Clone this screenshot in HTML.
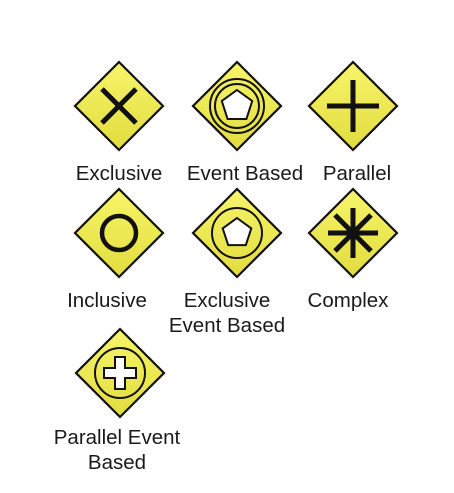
<!DOCTYPE html>
<html><head><meta charset="utf-8"><style>
body{margin:0;background:#fff;width:454px;height:488px;overflow:hidden}
svg text{font-family:"Liberation Sans",sans-serif;font-size:20.5px;fill:#1a1a1a;text-anchor:middle}
</style></head><body>
<svg width="454" height="488">
<defs><linearGradient id="g" x1="0" y1="0" x2="0" y2="1"><stop offset="0" stop-color="#f7f56a"/><stop offset="1" stop-color="#e2dc3e"/></linearGradient>
<symbol id="d" overflow="visible"><polygon points="0,-44 44,0 0,44 -44,0" fill="url(#g)" stroke="#111" stroke-width="2.2"/></symbol></defs>

<g transform="translate(119,106)"><use href="#d"/>
<path d="M-17,-17L17,17M17,-17L-17,17" stroke="#111" stroke-width="5"/></g>
<text x="119" y="180">Exclusive</text>

<g transform="translate(237,106)"><use href="#d"/>
<circle r="27" fill="none" stroke="#111" stroke-width="2"/><circle r="22" fill="none" stroke="#111" stroke-width="2"/>
<polygon points="0,-16 15.2,-5 9.4,13 -9.4,13 -15.2,-5" fill="#fff" stroke="#111" stroke-width="2"/></g>
<text x="245" y="180">Event Based</text>

<g transform="translate(353,106)"><use href="#d"/>
<path d="M0,-26V26M-26,0H26" stroke="#111" stroke-width="5"/></g>
<text x="357" y="180">Parallel</text>

<g transform="translate(119,233)"><use href="#d"/>
<circle r="17" fill="none" stroke="#111" stroke-width="4.5"/></g>
<text x="107" y="307">Inclusive</text>

<g transform="translate(237,233)"><use href="#d"/>
<circle r="25" fill="none" stroke="#111" stroke-width="2"/>
<polygon points="0,-15 14.3,-4.6 8.8,12.1 -8.8,12.1 -14.3,-4.6" fill="#fff" stroke="#111" stroke-width="2"/></g>
<text x="227" y="307">Exclusive</text>
<text x="227" y="332">Event Based</text>

<g transform="translate(353,233)"><use href="#d"/>
<path d="M0,-25V25M-25,0H25M-18,-18L18,18M18,-18L-18,18" stroke="#111" stroke-width="5"/></g>
<text x="348" y="307">Complex</text>

<g transform="translate(120,373)"><use href="#d"/>
<circle r="25" fill="none" stroke="#111" stroke-width="2"/>
<path d="M-5,-16H5V-5H16V5H5V16H-5V5H-16V-5H-5Z" fill="#fff" stroke="#111" stroke-width="2"/></g>
<text x="117" y="444">Parallel Event</text>
<text x="117" y="469">Based</text>
</svg>
</body></html>
